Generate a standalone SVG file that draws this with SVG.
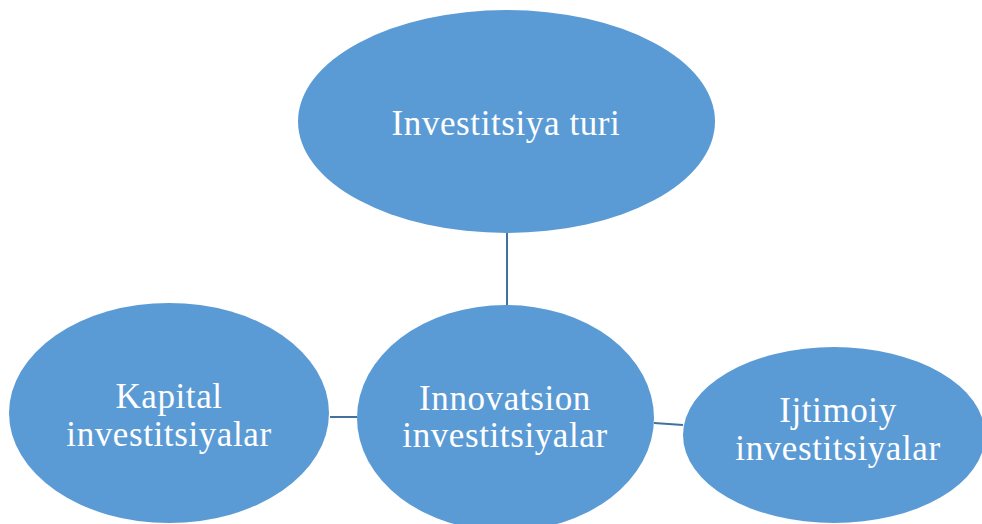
<svg xmlns="http://www.w3.org/2000/svg" width="982" height="524" viewBox="0 0 982 524">
<style>
.n{fill:#5B9BD5;}
.t{fill:#FFFFFF;font-family:"Liberation Serif","Times New Roman",serif;font-size:35px;letter-spacing:0.6px;text-anchor:middle;}
.c{stroke:#41719C;stroke-width:2;fill:none;}
</style>
<rect width="982" height="524" fill="#FFFFFF"/>
<g id="connectors">
<line class="c" x1="507" y1="233" x2="507" y2="306"/>
<line class="c" x1="330" y1="417" x2="357" y2="417"/>
<line class="c" x1="654" y1="423" x2="683" y2="425"/>
</g>
<g id="node-top">
<ellipse class="n" cx="506.5" cy="121.5" rx="208.5" ry="111.5"/>
<text class="t" x="506" y="135">Investitsiya turi</text>
</g>
<g id="node-left">
<ellipse class="n" cx="169" cy="413" rx="160" ry="110"/>
<text class="t" x="169" y="408">Kapital</text>
<text class="t" x="169" y="446">investitsiyalar</text>
</g>
<g id="node-middle">
<ellipse class="n" cx="505.5" cy="418" rx="148.5" ry="113"/>
<text class="t" x="505" y="410">Innovatsion</text>
<text class="t" x="505" y="447">investitsiyalar</text>
</g>
<g id="node-right">
<ellipse class="n" cx="834" cy="435" rx="151" ry="88"/>
<text class="t" x="838" y="422">Ijtimoiy</text>
<text class="t" x="838" y="460">investitsiyalar</text>
</g>
</svg>
